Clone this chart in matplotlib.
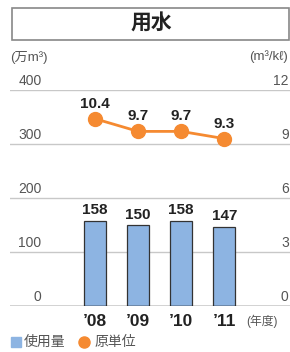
import matplotlib
matplotlib.use('Agg')
import matplotlib.pyplot as plt
from matplotlib.patches import Rectangle

plt.rcParams['font.family'] = ['Liberation Sans', 'Noto Sans CJK JP', 'DejaVu Sans']

years = ['’08', '’09', '’10', '’11']
usage = [158, 150, 158, 147]
unit = [10.4, 9.7, 9.7, 9.3]
left_ticks = [0, 100, 200, 300, 400]
right_ticks = [0, 3, 6, 9, 12]

bar_col = '#8db4e2'
orange = '#f58a31'
gray = '#555555'

fig = plt.figure(figsize=(2.9, 3.52), dpi=100)
ax = fig.add_axes([10/290, 1 - 306/352, 280/290, 216/352])
ax2 = ax.twinx()

x = list(range(len(years)))
ax.bar(x, usage, width=0.52, color=bar_col, edgecolor='#333333', linewidth=0.9, zorder=3)
for xi, v in zip(x, usage):
    ax.text(xi, v + 6, str(v), ha='center', va='bottom', fontsize=11,
            fontweight='bold', color='#222222')

ax.set_xlim(-1.98, 4.53)
ax.set_ylim(0, 400)
ax2.set_ylim(0, 12)
for t in left_ticks:
    if t == 0:
        ax.axhline(t, color='#222222', lw=1.0, zorder=4)
    else:
        ax.axhline(t, color='#c8c8c8', lw=1.0, zorder=1)
    ax.text(-1.25, t + 3, str(t), ha='right', va='bottom', fontsize=10, color=gray)
for t in right_ticks:
    ax2.text(4.5, t + 0.09, str(t), ha='right', va='bottom', fontsize=10, color=gray)

ax2.plot(x, unit, color=orange, lw=2, marker='o', markersize=10, zorder=5)
for xi, v in zip(x, unit):
    ax2.text(xi, v + 0.45, f'{v:.1f}', ha='center', va='bottom', fontsize=11,
             fontweight='bold', color='#222222')

for a in (ax, ax2):
    a.set_xticks([])
    a.set_yticks([])
    for s in a.spines.values():
        s.set_visible(False)
ax.patch.set_alpha(0)

for xi, lab in zip(x, years):
    fig.text((95 + 43 * xi) / 290, 1 - 321/352, lab, ha='center', va='center',
             fontsize=12.5, fontweight='bold', color='#222222')
fig.text(246/290, 1 - 321/352, '(年度)', ha='left', va='center', fontsize=8.5, color=gray)

# title box
fig.patches.append(Rectangle((12/290, 1 - 40/352), 277/290, 32/352, transform=fig.transFigure,
                             fill=False, edgecolor='#888888', lw=1.2))
fig.text(151/290, 1 - 24/352, '用水', ha='center', va='center', fontsize=15,
         fontweight='bold', color='#222222')

fig.text(10/290, 1 - 57/352, '(万m³)', ha='left', va='center', fontsize=9.5, color=gray)
fig.text(288/290, 1 - 57/352, '(m³/kℓ)', ha='right', va='center', fontsize=9.5, color=gray)

# legend
fig.patches.append(Rectangle((11/290, 1 - 347/352), 10/290, 10/352, transform=fig.transFigure,
                             color=bar_col))
fig.text(24/290, 1 - 342/352, '使用量', ha='left', va='center', fontsize=10, color=gray)
fig.lines.append(plt.Line2D([84/290], [1 - 342/352], transform=fig.transFigure,
                            marker='o', markersize=8, color=orange))
fig.text(95/290, 1 - 342/352, '原単位', ha='left', va='center', fontsize=10, color=gray)

fig.savefig('out.png', dpi=100)
